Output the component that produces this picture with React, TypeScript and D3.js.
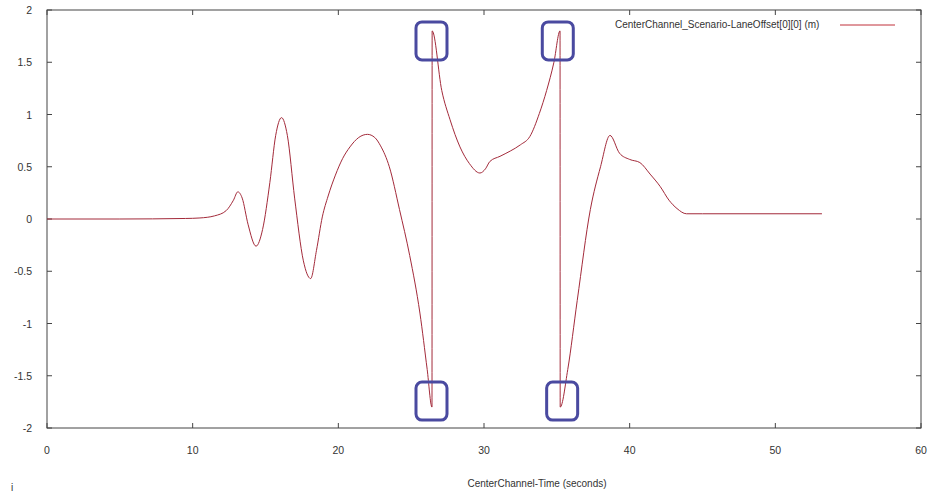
import React, { useEffect, useRef } from 'react';
import * as d3 from 'd3';

// time (s)
const times = [
  0, 5, 9.5, 10.5, 11.5, 12.3, 12.8, 13.1, 13.4, 13.8, 14.35, 14.8, 15.3, 15.7, 16.1, 16.5, 17.0, 17.6, 18.1, 18.5,
  18.9, 19.3, 19.8, 20.3, 20.8, 21.4, 22.0, 22.5, 22.9, 23.5, 24.2, 24.9, 25.6, 26.1, 26.43, 26.44, 27.1, 27.67, 28.35,
  29.0, 29.72, 30.1, 30.4, 31.1, 31.8, 32.5, 33.15, 33.8, 34.3, 34.8, 35.22, 35.23, 35.75, 36.4, 37.3, 38.0, 38.65,
  39.3, 40.0, 40.7, 41.4, 42.1, 42.7, 43.25, 43.9, 45, 53.2,
];
// lane offset (m)
const offsets = [
  0, 0, 0.005, 0.01, 0.03, 0.08, 0.18, 0.26, 0.2, -0.05, -0.26, -0.1, 0.35, 0.8, 0.97, 0.8, 0.2, -0.4, -0.57, -0.3,
  0.02, 0.22, 0.42, 0.58, 0.69, 0.78, 0.81, 0.78, 0.7, 0.5, 0.09, -0.35, -0.9, -1.44, -1.8, 1.8, 1.23, 0.95, 0.69,
  0.53, 0.44, 0.48, 0.55, 0.6, 0.65, 0.71, 0.79, 1.01, 1.23, 1.5, 1.8, -1.8, -1.44, -0.78, 0.09, 0.5, 0.8,
  0.63, 0.57, 0.54, 0.43, 0.31, 0.18, 0.1, 0.05, 0.05, 0.05,
];

const xTicks = [0, 10, 20, 30, 40, 50, 60];
const yTicks = [-2, -1.5, -1, -0.5, 0, 0.5, 1, 1.5, 2];

// highlighted spikes: [time, value]
const marks = [
  [26.43, 1.8],
  [35.1, 1.8],
  [26.43, -1.8],
  [35.4, -1.8],
];

const seriesName = 'CenterChannel_Scenario-LaneOffset[0][0] (m)';
const xTitle = 'CenterChannel-Time (seconds)';

export default function App() {
  const ref = useRef<SVGSVGElement>(null);

  useEffect(() => {
    const svg = d3.select(ref.current);
    svg.selectAll('*').remove();

    const left = 47, right = 921, top = 10, bottom = 428;
    const x = d3.scaleLinear().domain([0, 60]).range([left, right]);
    const y = d3.scaleLinear().domain([-2, 2]).range([bottom, top]);

    const axisColor = '#444';
    const font = '"Liberation Sans", Arial, sans-serif';

    svg.append('rect')
      .attr('x', left).attr('y', top)
      .attr('width', right - left).attr('height', bottom - top)
      .attr('fill', 'none').attr('stroke', axisColor).attr('stroke-width', 1);

    // ticks on all four sides, pointing in
    svg.selectAll('.xt')
      .data(xTicks)
      .enter()
      .append('path')
      .attr('d', d => `M${x(d)},${bottom}v-5M${x(d)},${top}v5`)
      .attr('stroke', axisColor);

    svg.selectAll('.yt')
      .data(yTicks)
      .enter()
      .append('path')
      .attr('d', d => `M${left},${y(d)}h5M${right},${y(d)}h-5`)
      .attr('stroke', axisColor);

    svg.selectAll('.xl')
      .data(xTicks)
      .enter()
      .append('text')
      .attr('x', d => x(d))
      .attr('y', 454)
      .attr('text-anchor', 'middle')
      .attr('font-family', font)
      .attr('font-size', 10.5)
      .attr('fill', '#333')
      .text(d => d);

    svg.selectAll('.yl')
      .data(yTicks)
      .enter()
      .append('text')
      .attr('x', 32)
      .attr('y', d => y(d) + 4)
      .attr('text-anchor', 'end')
      .attr('font-family', font)
      .attr('font-size', 10.5)
      .attr('fill', '#333')
      .text(d => d);

    svg.append('text')
      .attr('x', 537).attr('y', 487)
      .attr('text-anchor', 'middle')
      .attr('font-family', font).attr('font-size', 10).attr('fill', '#333')
      .text(xTitle);

    svg.append('text')
      .attr('x', 11).attr('y', 491)
      .attr('font-family', font).attr('font-size', 10).attr('fill', '#333')
      .text('i');

    const data = times.map((t, i) => [t, offsets[i]] as [number, number]);
    const line = d3.line<[number, number]>()
      .x(d => x(d[0]))
      .y(d => y(d[1]))
      .curve(d3.curveMonotoneX);

    const lineColor = '#a32a3a';
    svg.append('path')
      .attr('d', line(data))
      .attr('fill', 'none')
      .attr('stroke', lineColor)
      .attr('stroke-width', 1);

    // legend
    svg.append('text')
      .attr('x', 615).attr('y', 28)
      .attr('font-family', font).attr('font-size', 10).attr('fill', '#333')
      .text(seriesName);
    svg.append('line')
      .attr('x1', 840).attr('x2', 895)
      .attr('y1', 25).attr('y2', 25)
      .attr('stroke', '#c0303a').attr('stroke-width', 1);

    // blue highlight boxes
    svg.selectAll('.box')
      .data(marks)
      .enter()
      .append('rect')
      .attr('x', d => x(d[0]) - 16)
      .attr('y', d => y(d[1]) - (d[1] > 0 ? 9 : 25))
      .attr('width', 31)
      .attr('height', 38)
      .attr('rx', 6)
      .attr('fill', 'none')
      .attr('stroke', '#4a4aa0')
      .attr('stroke-width', 3);
  }, []);

  return (
    <svg ref={ref} width={928} height={495} style={{ position: 'absolute', left: 0, top: 0, background: '#fff' }} />
  );
}
